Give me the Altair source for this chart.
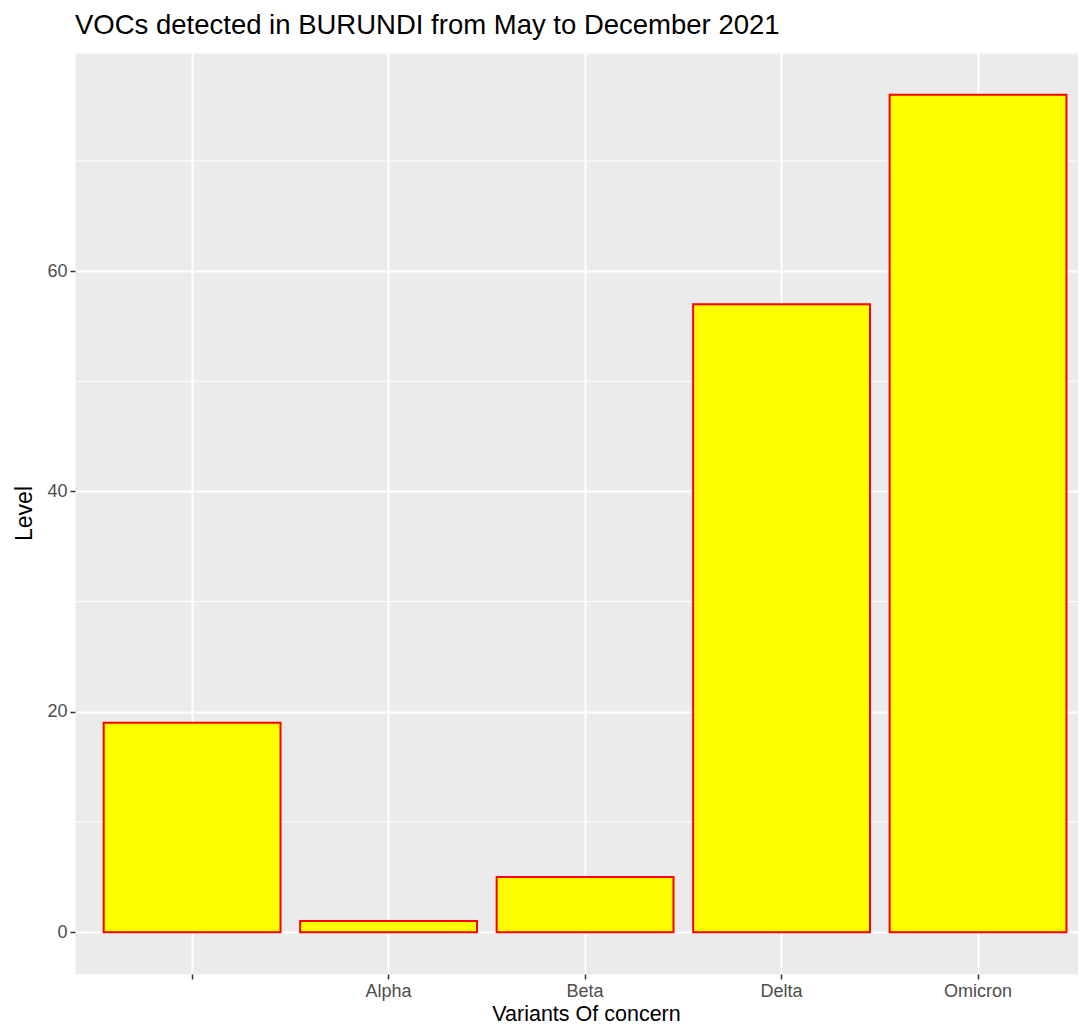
import altair as alt
import pandas as pd

# Data
variants = ["", "Alpha", "Beta", "Delta", "Omicron"]
levels = [19, 1, 5, 57, 76]
major_ticks = [0, 20, 40, 60]
minor_grid = [10, 30, 50, 70]

df = pd.DataFrame({"variant": variants, "level": levels})
minor_df = pd.DataFrame({"v": minor_grid})

FONT = "Liberation Sans"
Y_DOMAIN = [-3.8, 79.8]

x_scale = alt.Scale(domain=variants, paddingInner=0.1, paddingOuter=0.1023, align=0.7134)
y_scale = alt.Scale(domain=Y_DOMAIN, nice=False, zero=False)

minor = alt.Chart(minor_df).mark_rule(color="white", strokeWidth=1).encode(
    y=alt.Y("v:Q", scale=y_scale)
)

bars = alt.Chart(df).mark_bar(
    fill="#FFFF00", stroke="#FF0000", strokeWidth=2
).encode(
    x=alt.X(
        "variant:N",
        scale=x_scale,
        sort=variants,
        axis=alt.Axis(
            title="Variants Of concern",
            grid=True,
            gridColor="white",
            gridWidth=2,
            bandPosition=0.5,
            domain=False,
            labelAngle=0,
            tickColor="#333333",
            tickSize=5,
            tickWidth=1.5,
            labelColor="#4D4D4D",
            labelFont=FONT,
            labelFontSize=18,
            labelPadding=3.5,
            titleFont=FONT,
            titleFontSize=21.5,
            titleFontWeight="normal",
            titleColor="black",
            titleX=511,
            titleY=46,
            titleBaseline="alphabetic",
            titleAlign="center",
            titleAnchor="start",
        ),
    ),
    y=alt.Y(
        "level:Q",
        scale=y_scale,
        axis=alt.Axis(
            title="Level",
            values=major_ticks,
            grid=True,
            gridColor="white",
            gridWidth=2,
            domain=False,
            tickColor="#333333",
            tickSize=5,
            tickWidth=1.5,
            labelColor="#4D4D4D",
            labelFont=FONT,
            labelFontSize=18,
            labelPadding=3,
            titleFont=FONT,
            titleFontSize=23,
            titleFontWeight="normal",
            titleColor="black",
            titleAngle=270,
            titleX=-44,
            titleY=460,
            titleBaseline="alphabetic",
            titleAlign="center",
            titleAnchor="start",
        ),
    ),
)

chart = alt.layer(minor, bars).properties(
    width=1003,
    height=921,
    background="white",
    title=alt.TitleParams(
        "VOCs detected in BURUNDI from May to December 2021",
        anchor="start",
        frame="group",
        font=FONT,
        fontSize=27.5,
        fontWeight="normal",
        color="black",
        offset=14,
    ),
    autosize=alt.AutoSizeParams(type="none"),
    padding={"left": 67, "top": 45, "right": 0, "bottom": 50},
).configure_view(
    fill="#EBEBEB", stroke="transparent"
)

chart.save("out.html", embed_options={"renderer": "svg", "actions": False})
